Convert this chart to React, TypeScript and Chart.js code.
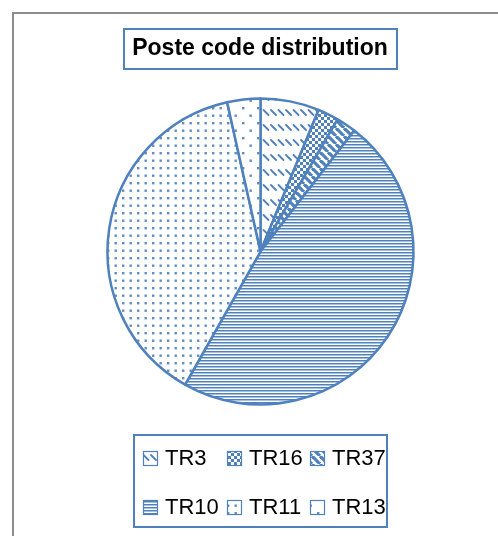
import React, { useEffect, useRef } from 'react';
import { Chart, registerables } from 'chart.js';

Chart.register(...registerables);

const categories = ['TR3', 'TR16', 'TR37', 'TR10', 'TR11', 'TR13'];
const values = [6.2, 2.2, 2.1, 47.7, 38.3, 3.5];
const titleText = 'Poste code distribution';

const BLUE = '#4F81BD';
const W = 498;
const H = 536;

type Drawer = (ctx: CanvasRenderingContext2D) => void;

function makePattern(target: CanvasRenderingContext2D, w: number, h: number, draw: Drawer) {
  const c = document.createElement('canvas');
  c.width = w;
  c.height = h;
  const ctx = c.getContext('2d') as CanvasRenderingContext2D;
  ctx.fillStyle = '#ffffff';
  ctx.fillRect(0, 0, w, h);
  draw(ctx);
  return target.createPattern(c, 'repeat') as CanvasPattern;
}

function buildPatterns(ctx: CanvasRenderingContext2D) {
  const dashedDiag = makePattern(ctx, 15, 15, (c) => {
    c.strokeStyle = BLUE;
    c.lineWidth = 1.8;
    c.lineCap = 'round';
    for (const x0 of [1, 8.5]) {
      c.beginPath();
      c.moveTo(x0, 5);
      c.lineTo(x0 + 5, 10);
      c.stroke();
    }
  });
  const checker = makePattern(ctx, 6, 6, (c) => {
    c.fillStyle = BLUE;
    c.fillRect(0, 0, 3, 3);
    c.fillRect(3, 3, 3, 3);
  });
  const wideDiag = makePattern(ctx, 8, 8, (c) => {
    c.strokeStyle = BLUE;
    c.lineWidth = 3.2;
    for (const k of [-1, 0, 1]) {
      c.beginPath();
      c.moveTo(k * 8, 0);
      c.lineTo(k * 8 + 8, 8);
      c.stroke();
    }
  });
  const narrowHoriz = makePattern(ctx, 3, 3, (c) => {
    c.fillStyle = BLUE;
    c.fillRect(0, 0, 3, 1);
    c.fillStyle = 'rgba(79,129,189,0.5)';
    c.fillRect(0, 1, 3, 1);
  });
  const dots10 = makePattern(ctx, 15, 15, (c) => {
    c.fillStyle = 'rgba(79,129,189,0.9)';
    for (const [x, y] of [[2, 2], [9.5, 2], [2, 9.5], [9.5, 9.5]]) {
      c.fillRect(x, y, 2.4, 2.4);
    }
  });
  const dots5 = makePattern(ctx, 15, 15, (c) => {
    c.fillStyle = 'rgba(79,129,189,0.9)';
    for (const [x, y] of [[2, 2], [9.5, 9.5]]) {
      c.fillRect(x, y, 2.4, 2.4);
    }
  });
  return [dashedDiag, checker, wideDiag, narrowHoriz, dots10, dots5];
}

const decorPlugin = {
  id: 'decor',
  beforeDraw(chart: any) {
    const ctx: CanvasRenderingContext2D = chart.ctx;
    ctx.save();
    ctx.fillStyle = '#ffffff';
    ctx.fillRect(0, 0, W, H);
    // outer frame
    ctx.strokeStyle = '#8c8c8c';
    ctx.lineWidth = 2;
    ctx.beginPath();
    ctx.moveTo(13, H + 5);
    ctx.lineTo(13, 13);
    ctx.lineTo(W + 5, 13);
    ctx.stroke();
    // title box
    ctx.strokeStyle = BLUE;
    ctx.lineWidth = 2;
    ctx.strokeRect(124, 29, 273, 40);
    ctx.fillStyle = '#000000';
    ctx.font = "bold 23px 'Liberation Sans', Arial, sans-serif";
    ctx.textAlign = 'center';
    ctx.textBaseline = 'middle';
    ctx.fillText(titleText, 260, 49);
    ctx.restore();
  },
  afterDraw(chart: any) {
    const ctx: CanvasRenderingContext2D = chart.ctx;
    const labels: string[] = chart.data.labels;
    const fills = chart.data.datasets[0].backgroundColor;
    ctx.save();
    // legend box
    ctx.strokeStyle = BLUE;
    ctx.lineWidth = 2;
    ctx.strokeRect(134, 435, 253, 92);
    const colX = [143, 227, 310];
    const rowY = [458, 507];
    ctx.font = "22px 'Liberation Sans', Arial, sans-serif";
    ctx.textAlign = 'left';
    ctx.textBaseline = 'middle';
    labels.forEach((lab, i) => {
      const x = colX[i % 3];
      const y = rowY[Math.floor(i / 3)];
      ctx.fillStyle = fills[i];
      ctx.fillRect(x, y - 7, 15, 15);
      ctx.strokeStyle = BLUE;
      ctx.lineWidth = 1.2;
      ctx.strokeRect(x + 0.5, y - 6.5, 14, 14);
      ctx.fillStyle = '#000000';
      ctx.fillText(lab, x + 22, y + 1);
    });
    ctx.restore();
  },
};

export default function App() {
  const ref = useRef<HTMLCanvasElement | null>(null);
  useEffect(() => {
    const canvas = ref.current;
    if (!canvas) return;
    const ctx = canvas.getContext('2d') as CanvasRenderingContext2D;
    const patterns = buildPatterns(ctx);
    const chart = new Chart(canvas, {
      type: 'pie',
      data: {
        labels: categories,
        datasets: [
          {
            data: values,
            backgroundColor: patterns as any,
            borderColor: BLUE,
            borderWidth: 2.5,
            radius: 153,
          } as any,
        ],
      },
      options: {
        responsive: false,
        animation: false,
        devicePixelRatio: 1,
        layout: { padding: { left: 100, right: 77, top: 90, bottom: 123 } },
        plugins: {
          legend: { display: false },
          title: { display: false },
          tooltip: { enabled: false },
        },
      } as any,
      plugins: [decorPlugin],
    });
    return () => chart.destroy();
  }, []);
  return (
    <div style={{ position: 'absolute', left: 0, top: 0, width: W, height: H, background: '#fff' }}>
      <canvas ref={ref} width={W} height={H} style={{ width: W, height: H, display: 'block' }} />
    </div>
  );
}
